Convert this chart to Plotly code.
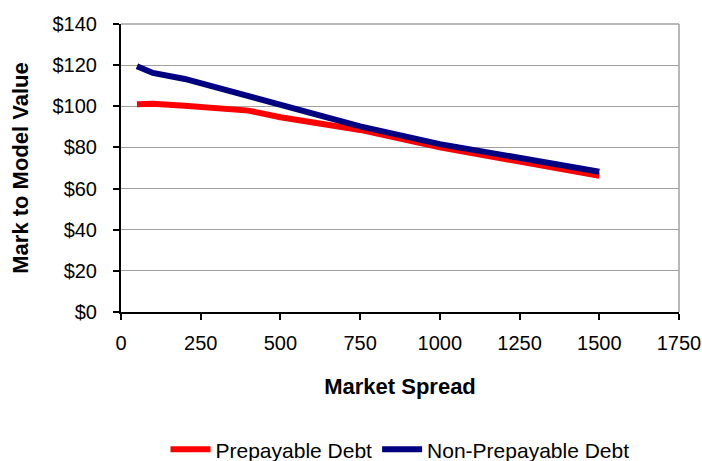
import plotly.graph_objects as go

# data
spread = [50, 100, 200, 400, 500, 750, 1000, 1250, 1500]
prepayable = [101.0, 101.2, 100.3, 97.9, 94.7, 88.5, 80.0, 73.0, 66.2]
non_prepayable = [119.5, 116.2, 113.3, 105.0, 100.6, 90.2, 81.6, 75.0, 68.2]

x_ticks = [0, 250, 500, 750, 1000, 1250, 1500, 1750]
y_ticks = [0, 20, 40, 60, 80, 100, 120, 140]

font_name = "Liberation Sans, Arial, sans-serif"

fig = go.Figure()
fig.add_trace(go.Scatter(
    x=spread, y=prepayable, mode="lines", name="Prepayable Debt",
    line=dict(color="#FF0000", width=6)
))
fig.add_trace(go.Scatter(
    x=spread, y=non_prepayable, mode="lines", name="Non-Prepayable Debt",
    line=dict(color="#000080", width=6)
))

fig.update_xaxes(
    range=[0, 1750], tickvals=x_ticks, ticktext=[str(t) for t in x_ticks],
    showgrid=False, zeroline=False,
    showline=True, linecolor="black", linewidth=2,
    ticks="outside", ticklen=6, tickcolor="black", tickwidth=2,
    tickfont=dict(size=20, color="black"),
    ticklabelstandoff=6,
    title=dict(text="<b>Market Spread</b>", font=dict(size=22, color="black"), standoff=26),
)
fig.update_yaxes(
    range=[0, 140], tickvals=y_ticks, ticktext=["$" + str(t) for t in y_ticks],
    showgrid=True, gridcolor="#a0a0a0", gridwidth=1, zeroline=False,
    showline=True, linecolor="black", linewidth=2,
    ticks="outside", ticklen=6, tickcolor="black", tickwidth=2,
    tickfont=dict(size=20, color="black"),
    ticklabelstandoff=12,
    title=dict(text="<b>Mark to Model Value</b>", font=dict(size=22, color="black"), standoff=18),
)

# grey plot-area border on top and right
fig.add_shape(type="line", xref="paper", yref="paper", x0=1, x1=1, y0=0, y1=1,
              line=dict(color="#a0a0a0", width=1.5))
fig.add_shape(type="line", xref="paper", yref="paper", x0=0, x1=1, y0=1, y1=1,
              line=dict(color="#a0a0a0", width=1.5))

fig.update_layout(
    width=702, height=461,
    margin=dict(l=121, r=23, t=24, b=149, autoexpand=False),
    paper_bgcolor="white", plot_bgcolor="white",
    font=dict(family=font_name, color="black"),
    legend=dict(
        orientation="h", x=0.5, xanchor="center", y=-0.478, yanchor="middle",
        font=dict(size=21), itemwidth=40,
    ),
)

# drop the default 8px body margin so the figure fills the window
fig.write_html(
    "out.html",
    config={"displayModeBar": False},
    post_script="document.body.style.margin='0';",
)
